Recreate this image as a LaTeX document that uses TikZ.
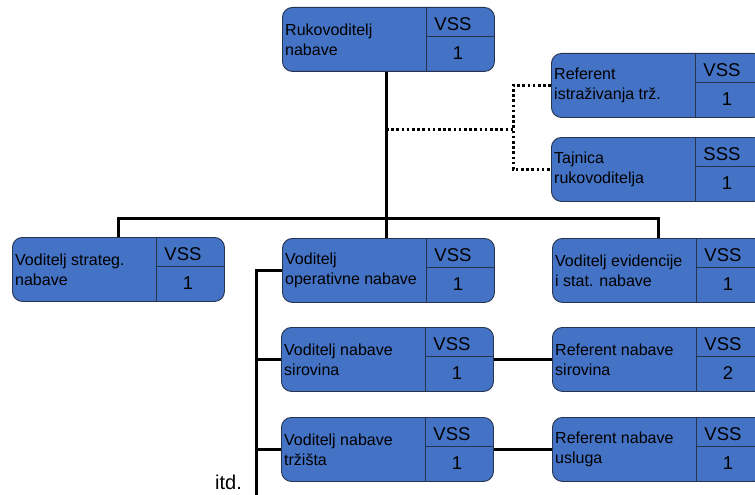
\documentclass[tikz,border=0pt]{standalone}
\usepackage{fontspec}
\setmainfont{Liberation Sans}
\definecolor{plava}{HTML}{4472C4}
\definecolor{rub}{HTML}{26344F}

\begin{document}
\begin{tikzpicture}[
    x=1pt, y=-1pt, % pixel grid, y downwards
    mjesto/.style = {draw=rub, fill=plava, rounded corners=10pt, line width=0.9pt,
                     minimum width=212pt, minimum height=64pt, inner sep=0pt, anchor=north west},
    celija/.style = {draw=rub, line width=0.9pt},
    opis/.style = {anchor=west, align=left, inner sep=1pt, font=\fontsize{16}{20}\selectfont},
    razred/.style = {inner sep=0pt, font=\fontsize{18.5}{20}\selectfont}
    ]
    \tikzstyle{veza} = [draw=black, line width=3pt]
    \tikzstyle{tockasto} = [draw=black, line width=3pt, dash pattern=on 2.6pt off 2.6pt]
    \clip (0,0) rectangle (755,495);

    \foreach \n/\x/\y/\t/\g/\c in {
        ruk/282/7/{Rukovoditelj\\nabave}/VSS/1,
        ref/551/53/{Referent\\istraživanja trž.}/VSS/1,
        taj/551/137/{Tajnica\\rukovoditelja}/SSS/1,
        strat/12/237/{Voditelj strateg.\\nabave}/VSS/1,
        oper/282/238/{Voditelj\\operativne nabave}/VSS/1,
        evid/552/238/{Voditelj evidencije\\i stat. nabave}/VSS/1,
        sir/281/327/{Voditelj nabave\\sirovina}/VSS/1,
        refsir/552/327/{Referent nabave\\sirovina}/VSS/2,
        trz/281/417/{Voditelj nabave\\tržišta}/VSS/1,
        refusl/552/417/{Referent nabave\\usluga}/VSS/1}
    {
        \node[mjesto] (\n) at (\x,\y) {};
        \draw[celija] ([xshift=144pt]\n.north west) -- ([xshift=144pt]\n.south west);
        \draw[celija] ([shift={(144pt,-29pt)}]\n.north west) -- ([yshift=-29pt]\n.north east);
        \node[opis] (\n-t) at ([xshift=2pt]\n.west) {\t};
        \node[razred] (\n-r) at ([shift={(171pt,-17pt)}]\n.north west) {\g};
        \node[razred] (\n-b) at ([shift={(176pt,-46pt)}]\n.north west) {\c};
    }

    \coordinate (razina) at (0,218);
    \coordinate (savjet) at (386,129);
    \coordinate (spoj) at (513,129);
    \coordinate (kraj) at (256,495);

    \draw[veza] (ruk.south) ++(-2,0) coordinate (vrh) -- (vrh |- oper.north);
    \draw[veza] (strat.north) -- (strat.north |- razina) -- (evid.north |- razina) -- (evid.north);
    \draw[tockasto] (savjet) -- (spoj);
    \draw[tockasto] (ref.west) -| (spoj) |- (taj.west);
    \draw[veza] (oper.west) -| (kraj);
    \draw[veza] (sir.west) -- (sir.west -| kraj);
    \draw[veza] (trz.west) -- (trz.west -| kraj);
    \draw[veza] (sir.east) -- (refsir.west);
    \draw[veza] (trz.east) -- (refusl.west);

    \node[inner sep=0pt, anchor=base west, font=\fontsize{20}{24}\selectfont] (itd) at (215,489) {itd.};
\end{tikzpicture}
\end{document}
